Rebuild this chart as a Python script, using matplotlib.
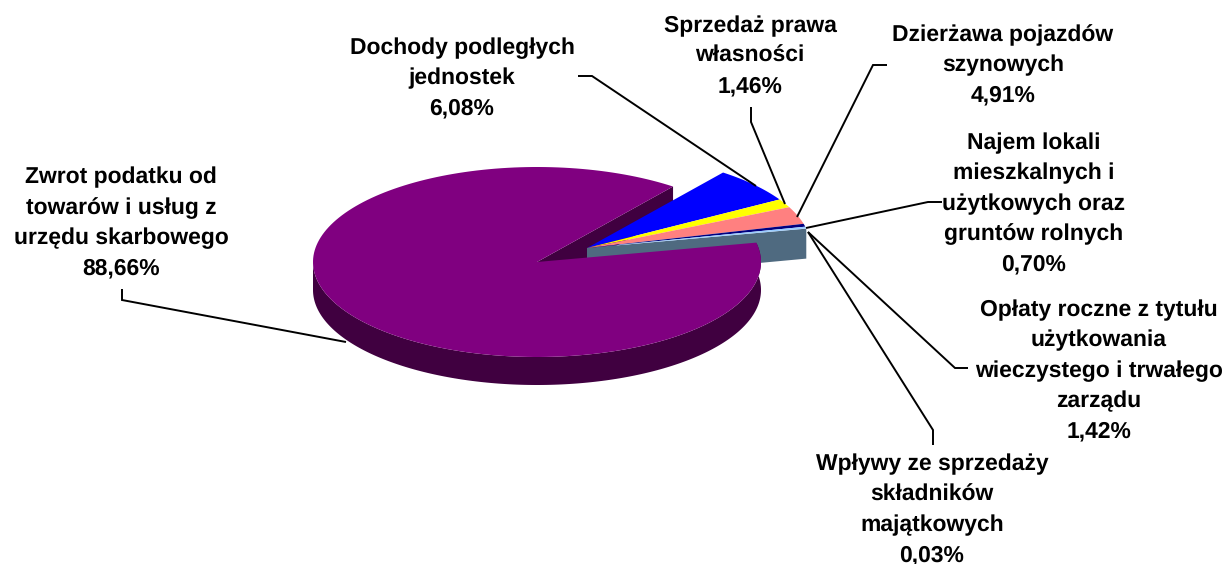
import numpy as np
import matplotlib
matplotlib.use("Agg")
import matplotlib.pyplot as plt
from matplotlib.patches import Polygon

plt.rcParams['font.family'] = ['Liberation Sans', 'DejaVu Sans']
plt.rcParams['text.hinting'] = 'no_hinting'

labels = ["Zwrot podatku od\ntowarów i usług z\nurzędu skarbowego\n88,66%",
          "Dochody podległych\njednostek\n6,08%",
          "Sprzedaż prawa\nwłasności\n1,46%",
          "Dzierżawa pojazdów\nszynowych\n4,91%",
          "Najem lokali\nmieszkalnych i\nużytkowych oraz\ngruntów rolnych\n0,70%",
          "Opłaty roczne z tytułu\nużytkowania\nwieczystego i trwałego\nzarządu\n1,42%",
          "Wpływy ze sprzedaży\nskładników\nmajątkowych\n0,03%"]
# angular shares as drawn in the picture (percent of the full circle)
shares = [88.66, 6.08, 1.46, 2.97, 0.50, 0.30, 0.03]
colors = ["#800080", "#0000ff", "#ffff00", "#ff8080", "#000080", "#99ccff", "#99ccff"]
dark_purple = "#400040"
slate = "#4f6a80"

label_xy = [(121, 223), (462, 78), (750, 56), (1003, 65), (1034, 204), (1099, 371), (932, 510)]
leaders = [[(122, 289), (122, 300), (346, 342)],
           [(578, 76), (592, 76), (756, 186)],
           [(751, 107), (751, 122), (785, 204)],
           [(887, 65), (873, 65), (797, 217)],
           [(942, 202), (928, 202), (806, 228)],
           [(968, 368), (955, 368), (808, 232)],
           [(933, 445), (933, 430), (808, 232)]]

W, H = 1229, 564
fig = plt.figure(figsize=(W / 100, H / 100), dpi=100)
ax = fig.add_axes([0, 0, 1, 1])
ax.set_xlim(0, W)
ax.set_ylim(H, 0)
ax.axis("off")

cx, cy, rx, ry, depth = 537, 262, 224, 95, 28
ox, oy = 50, -14      # explosion offset of the small slices
start = 52.6          # degrees, ellipse angle where the big slice begins


def rim(a0, a1, x0=cx, y0=cy, n=200):
    t = np.radians(np.linspace(a0, a1, n))
    return np.c_[x0 + rx * np.cos(t), y0 - ry * np.sin(t)]


def wedge(a0, a1, x0=cx, y0=cy, **kw):
    pts = np.vstack([[x0, y0], rim(a0, a1, x0, y0)])
    ax.add_patch(Polygon(pts, closed=True, lw=0, **kw))


ang = 360 * np.array(shares) / sum(shares)
big_end = start + ang[0]       # counter-clockwise round the back and front
small_end = big_end - 360      # about 11.5 degrees

# cut face of the big slice at its start angle
p = rim(start, start, n=1)[0]
ax.add_patch(Polygon([(cx, cy), p, (p[0], p[1] + depth), (cx, cy + depth)], lw=0, fc=dark_purple))

# exploded group: cut face, then wedges
gx, gy = cx + ox, cy + oy
e = rim(small_end, small_end, gx, gy, n=1)[0]
ax.add_patch(Polygon([(gx, gy), e, (e[0], e[1] + 30), (gx, gy + 31)], lw=0, fc=slate))
a = start
for v, c in zip(ang[1:], colors[1:]):
    wedge(a - v, a, gx, gy, fc=c)
    a -= v

# big slice: rim then top
front = rim(180, big_end)
side = np.vstack([front, front[::-1] + [0, depth]])
ax.add_patch(Polygon(side, closed=True, lw=0, fc=dark_purple))
wedge(start, big_end, fc=colors[0])

for pts in leaders:
    xs, ys = zip(*pts)
    ax.plot(xs, ys, color="black", lw=1.4, solid_capstyle="butt", solid_joinstyle="miter")
for s, (x, y) in zip(labels, label_xy):
    ax.text(x, y, s, ha="center", va="center", fontsize=16.5, fontweight="bold",
            color="black", linespacing=1.525)

fig.savefig("out.png", dpi=100)
